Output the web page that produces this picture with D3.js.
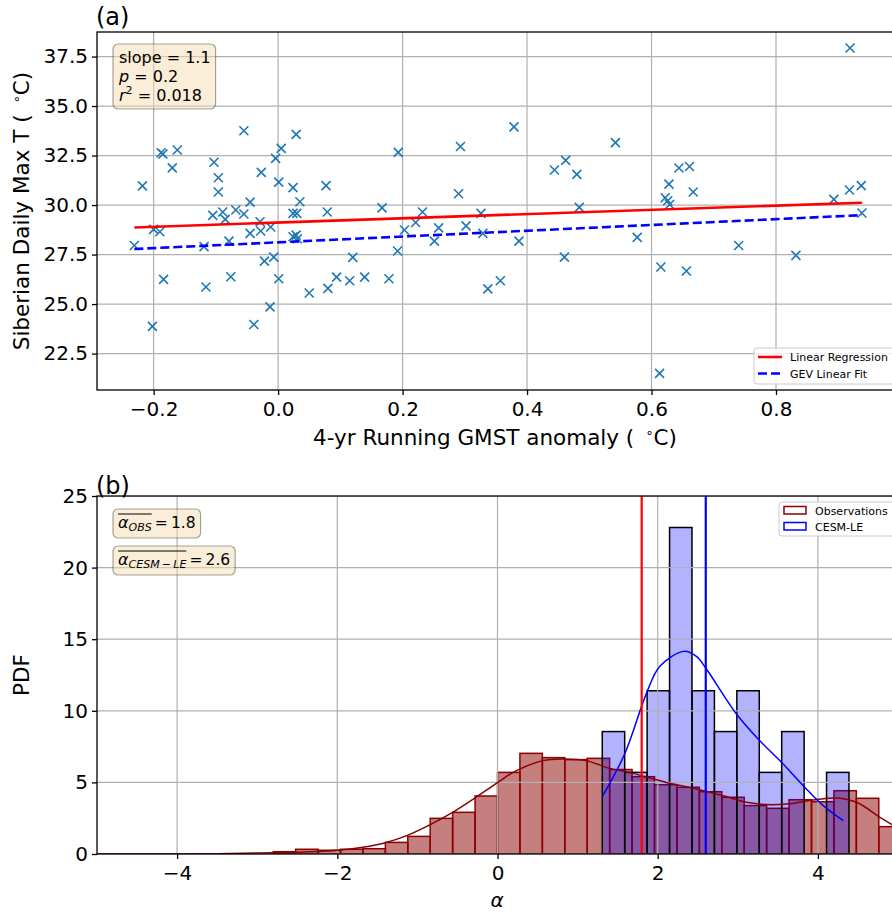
<!DOCTYPE html>
<html>
<head>
<meta charset="utf-8">
<style>
body { margin: 0; background: #fff; }
svg { display: block; font-family: "DejaVu Sans", sans-serif; }
</style>
</head>
<body>
<div id="chart"></div>
<script src="https://cdnjs.cloudflare.com/ajax/libs/d3/7.8.5/d3.min.js"></script>
<script>
// panel (a): GMST anomaly vs Siberian max T
const gmst = [-0.231,-0.218,-0.202,-0.200,-0.190,-0.188,-0.185,-0.184,-0.170,-0.162,
  -0.119,-0.116,-0.105,-0.103,-0.096,-0.096,-0.089,-0.085,-0.079,-0.076,
  -0.068,-0.055,-0.055,-0.045,-0.045,-0.039,-0.029,-0.028,-0.027,-0.022,
  -0.013,-0.012,-0.007,-0.004,0.001,0.001,0.005,0.024,0.024,0.030,
  0.024,0.029,0.031,0.029,0.035,0.050,0.077,0.079,0.080,0.094,
  0.115,0.120,0.139,0.167,0.178,0.192,0.193,0.203,0.221,0.232,
  0.251,0.258,0.290,0.293,0.302,0.326,0.329,0.337,0.357,0.379,
  0.387,0.444,0.460,0.462,0.480,0.484,0.542,0.577,0.613,0.615,
  0.622,0.626,0.629,0.628,0.644,0.656,0.661,0.667,0.740,0.832,
  0.893,0.918,0.919,0.937,0.938];
const tmax = [27.96,30.97,23.87,28.77,28.65,32.64,32.58,26.25,31.88,32.78,
  27.90,25.86,29.48,32.16,31.38,30.66,29.65,29.28,28.18,26.38,
  29.75,33.75,29.55,30.15,28.57,23.97,29.16,28.69,31.65,27.17,
  24.86,28.89,27.37,32.36,31.16,26.28,32.86,30.88,29.58,29.58,
  28.40,28.48,28.30,33.57,30.17,25.56,30.98,29.65,25.79,26.36,
  26.18,27.36,26.36,29.86,26.28,27.68,32.66,28.74,29.12,29.65,
  28.18,28.85,30.57,32.96,28.95,29.58,28.57,25.77,26.18,33.95,
  28.18,31.77,27.37,32.26,31.55,29.88,33.15,28.37,21.50,26.87,
  30.37,30.22,30.03,31.06,31.87,26.67,31.95,30.66,27.96,27.46,
  30.29,30.76,37.93,30.98,29.60];
const fitX = [-0.231, 0.938];
const regY = [28.87, 30.12];
const gevY = [27.78, 29.49];
const xTicksA = [-0.2, 0, 0.2, 0.4, 0.6, 0.8];
const yTicksA = [22.5, 25, 27.5, 30, 32.5, 35, 37.5];

// panel (b): alpha histograms
const obsBins = [-2.8,-2.52,-2.24,-1.96,-1.68,-1.4,-1.12,-0.84,-0.56,-0.28,
  0,0.28,0.56,0.84,1.12,1.4,1.68,1.96,2.24,2.52,2.8,3.08,3.36,3.64,3.92,4.2,4.48,4.76];
const obsPdf = [0.16,0.33,0.26,0.33,0.37,0.81,1.23,2.49,2.91,4.05,
  5.70,7.03,6.73,6.59,6.68,5.90,5.40,4.84,4.66,4.35,3.96,3.38,3.19,3.79,3.65,4.42,3.89,1.91];
const cesmBins = [1.308,1.588,1.868,2.148,2.428,2.708,2.988,3.268,3.548,3.828,4.108];
const cesmPdf = [8.55,5.70,11.4,22.8,11.4,8.55,11.4,5.70,8.55,0,5.70];
const binW = 0.28;
const obsKdeX = [-5,-4,-3.5,-3,-2.5,-1.96,-1.68,-1.4,-1.125,-0.846,-0.566,-0.2875,0,0.2125,0.567,0.817,1.108,1.4,1.69,2.108,2.483,2.817,3.108,3.358,3.608,3.942,4.233,4.483,4.775,5.0];
const obsKdeY = [0,0.005,0.02,0.07,0.12,0.28,0.47,0.79,1.30,2.03,2.89,3.89,4.98,5.75,6.52,6.63,6.52,5.98,5.63,5.0,4.54,4.07,3.61,3.45,3.49,3.77,3.91,3.61,2.56,1.8];
const cesmKdeX = [1.308,1.5875,1.858,2.025,2.325,2.483,2.608,2.983,3.275,3.546,3.817,4.067,4.317];
const cesmKdeY = [4.0,6.98,11.2,13.1,14.15,13.8,12.92,9.78,7.91,6.40,4.77,3.38,2.33];
const obsMean = 1.8, cesmMean = 2.6;
const xTicksB = [-4, -2, 0, 2, 4];
const yTicksB = [0, 5, 10, 15, 20, 25];

const width = 892, height = 913;
const svg = d3.select("#chart").append("svg")
    .attr("width", width).attr("height", height);

const boxA = {left: 97, right: 893, top: 32, bottom: 390};
const boxB = {left: 97, right: 898, top: 496, bottom: 854};

const xA = d3.scaleLinear().domain([-0.291, 0.988]).range([boxA.left, boxA.right]);
const yA = d3.scaleLinear().domain([20.66, 38.74]).range([boxA.bottom, boxA.top]);
const xB = d3.scaleLinear().domain([-5, 5]).range([boxB.left, boxB.right]);
const yB = d3.scaleLinear().domain([0, 25]).range([boxB.bottom, boxB.top]);

const grid = "#b0b0b0";
const tickFont = 20;

function drawGrid(g, box, x, y, xt, yt) {
  g.selectAll(".gx").data(xt).join("line")
      .attr("x1", d => x(d)).attr("x2", d => x(d))
      .attr("y1", box.top).attr("y2", box.bottom)
      .attr("stroke", grid).attr("stroke-width", 1.2);
  g.selectAll(".gy").data(yt).join("line")
      .attr("x1", box.left).attr("x2", box.right)
      .attr("y1", d => y(d)).attr("y2", d => y(d))
      .attr("stroke", grid).attr("stroke-width", 1.2);
}

function drawAxes(box, x, y, xt, yt, fmtX, fmtY) {
  svg.append("g")
      .attr("transform", `translate(0,${box.bottom})`)
      .call(d3.axisBottom(x).tickValues(xt).tickFormat(fmtX).tickSize(5).tickPadding(7))
      .call(g => g.select(".domain").remove())
      .call(g => g.selectAll("text").attr("font-size", tickFont).attr("font-family", "DejaVu Sans").attr("fill", "#000"))
      .call(g => g.selectAll("line").attr("stroke", "#000").attr("stroke-width", 1.3));
  svg.append("g")
      .attr("transform", `translate(${box.left},0)`)
      .call(d3.axisLeft(y).tickValues(yt).tickFormat(fmtY).tickSize(5).tickPadding(4))
      .call(g => g.select(".domain").remove())
      .call(g => g.selectAll("text").attr("font-size", tickFont).attr("font-family", "DejaVu Sans").attr("fill", "#000"))
      .call(g => g.selectAll("line").attr("stroke", "#000").attr("stroke-width", 1.3));
  svg.append("rect")
      .attr("x", box.left).attr("y", box.top)
      .attr("width", box.right - box.left).attr("height", box.bottom - box.top)
      .attr("fill", "none").attr("stroke", "#000").attr("stroke-width", 1.3);
}

function infoBox(g, pad) {
  const b = g.node().getBBox();
  g.insert("rect", ":first-child")
      .attr("x", b.x - pad).attr("y", b.y - pad + 1)
      .attr("width", b.width + 2 * pad).attr("height", b.height + 2 * pad - 2)
      .attr("rx", 5)
      .attr("fill", "#f5deb3").attr("fill-opacity", 0.5)
      .attr("stroke", "#000").attr("stroke-opacity", 0.35).attr("stroke-width", 1.2);
}

function degreeLabel(t, lead) {
  t.append("tspan").text(lead + " (\u2009 ");
  t.append("tspan").attr("font-size", 13).attr("dy", -8).text("∘");
  t.append("tspan").attr("dy", 8).text("C)");
}

// ---------- panel (a) ----------
const gA = svg.append("g");
drawGrid(gA, boxA, xA, yA, xTicksA, yTicksA);

gA.selectAll(".pt").data(gmst.map((d, i) => [d, tmax[i]])).join("path")
    .attr("transform", d => `translate(${xA(d[0])},${yA(d[1])})`)
    .attr("d", "M-4.5,-4.5L4.5,4.5M-4.5,4.5L4.5,-4.5")
    .attr("stroke", "#1f77b4").attr("stroke-width", 1.6).attr("fill", "none");

const lineA = d3.line().x(d => xA(d[0])).y(d => yA(d[1]));
gA.append("path").datum(fitX.map((d, i) => [d, regY[i]]))
    .attr("d", lineA).attr("stroke", "red").attr("stroke-width", 2.6).attr("fill", "none");
gA.append("path").datum(fitX.map((d, i) => [d, gevY[i]]))
    .attr("d", lineA).attr("stroke", "blue").attr("stroke-width", 2.6).attr("fill", "none")
    .attr("stroke-dasharray", "9,4");

drawAxes(boxA, xA, yA, xTicksA, yTicksA, d3.format(".1f"), d3.format(".1f"));

// stats box
const sA = svg.append("g").attr("font-size", 16);
sA.append("text").attr("x", 119).attr("y", 63).text("slope = 1.1");
const tp = sA.append("text").attr("x", 119).attr("y", 82);
tp.append("tspan").attr("font-style", "italic").text("p");
tp.append("tspan").text(" = 0.2");
const tr = sA.append("text").attr("x", 119).attr("y", 101);
tr.append("tspan").attr("font-style", "italic").text("r");
tr.append("tspan").attr("font-size", 11).attr("dy", -7).text("2");
tr.append("tspan").attr("dy", 7).text(" = 0.018");
infoBox(sA, 5);

// legend (a)
const lgA = svg.append("g");
lgA.append("rect").attr("x", 754).attr("y", 348).attr("width", 150).attr("height", 36).attr("rx", 3)
    .attr("fill", "#fff").attr("fill-opacity", 0.8).attr("stroke", "#cccccc");
lgA.append("line").attr("x1", 758).attr("x2", 782).attr("y1", 357).attr("y2", 357)
    .attr("stroke", "red").attr("stroke-width", 2.6);
lgA.append("line").attr("x1", 758).attr("x2", 782).attr("y1", 373.5).attr("y2", 373.5)
    .attr("stroke", "blue").attr("stroke-width", 2.6).attr("stroke-dasharray", "9,4");
lgA.append("text").attr("x", 790).attr("y", 361).attr("font-size", 11).text("Linear Regression");
lgA.append("text").attr("x", 790).attr("y", 377.5).attr("font-size", 11).text("GEV Linear Fit");

// labels (a)
svg.append("text").attr("x", 96).attr("y", 25).attr("font-size", 24).text("(a)");
degreeLabel(svg.append("text").attr("transform", "translate(29,211) rotate(-90)")
    .attr("text-anchor", "middle").attr("font-size", 21.5), "Siberian Daily Max T");
degreeLabel(svg.append("text").attr("x", 495).attr("y", 445)
    .attr("text-anchor", "middle").attr("font-size", 21.5), "4-yr Running GMST anomaly");

// ---------- panel (b) ----------
svg.append("clipPath").attr("id", "clipB").append("rect")
    .attr("x", boxB.left).attr("y", boxB.top)
    .attr("width", boxB.right - boxB.left).attr("height", boxB.bottom - boxB.top);
const gB = svg.append("g").attr("clip-path", "url(#clipB)");

gB.selectAll(".ob").data(obsBins.map((d, i) => [d, obsPdf[i]])).join("rect")
    .attr("x", d => xB(d[0])).attr("y", d => yB(d[1]))
    .attr("width", d => xB(d[0] + binW) - xB(d[0])).attr("height", d => yB(0) - yB(d[1]))
    .attr("fill", "#8b0000").attr("fill-opacity", 0.5)
    .attr("stroke", "#8b0000").attr("stroke-width", 1.5);

gB.selectAll(".cb").data(cesmBins.map((d, i) => [d, cesmPdf[i]]).filter(d => d[1] > 0)).join("rect")
    .attr("x", d => xB(d[0])).attr("y", d => yB(d[1]))
    .attr("width", d => xB(d[0] + binW) - xB(d[0])).attr("height", d => yB(0) - yB(d[1]))
    .attr("fill", "blue").attr("fill-opacity", 0.3)
    .attr("stroke", "#000").attr("stroke-width", 1.5);

drawGrid(gB, boxB, xB, yB, xTicksB, yTicksB);

const lineB = d3.line().x(d => xB(d[0])).y(d => yB(d[1])).curve(d3.curveCatmullRom.alpha(0.5));
gB.append("path").datum(obsKdeX.map((d, i) => [d, obsKdeY[i]]))
    .attr("d", lineB).attr("stroke", "#8b0000").attr("stroke-width", 1.5).attr("fill", "none");
gB.append("path").datum(cesmKdeX.map((d, i) => [d, cesmKdeY[i]]))
    .attr("d", lineB).attr("stroke", "blue").attr("stroke-width", 1.5).attr("fill", "none");

gB.append("line").attr("x1", xB(obsMean)).attr("x2", xB(obsMean))
    .attr("y1", boxB.top).attr("y2", boxB.bottom).attr("stroke", "red").attr("stroke-width", 2.2);
gB.append("line").attr("x1", xB(cesmMean)).attr("x2", xB(cesmMean))
    .attr("y1", boxB.top).attr("y2", boxB.bottom).attr("stroke", "blue").attr("stroke-width", 2.2);

drawAxes(boxB, xB, yB, xTicksB, yTicksB, d3.format("d"), d3.format("d"));

// mean boxes
function meanBox(y, sub, val) {
  const g = svg.append("g").attr("font-size", 15.5);
  const t = g.append("text").attr("x", 118).attr("y", y);
  const a = t.append("tspan").attr("font-style", "italic").attr("font-size", 16).text("α");
  const s = t.append("tspan").attr("font-style", "italic").attr("font-size", 11).attr("dy", 3).text(sub);
  t.append("tspan").attr("dy", -3).text("\u2009=\u2009" + val);
  const w = a.node().getComputedTextLength() + s.node().getComputedTextLength();
  g.append("line").attr("x1", 118).attr("x2", 118 + w)
      .attr("y1", y - 14).attr("y2", y - 14).attr("stroke", "#000").attr("stroke-width", 1.2);
  infoBox(g, 5);
}
meanBox(528, "OBS", "1.8");
meanBox(565, "CESM\u2009−\u2009LE", "2.6");

// legend (b)
const lgB = svg.append("g");
lgB.append("rect").attr("x", 779).attr("y", 502).attr("width", 120).attr("height", 34).attr("rx", 3)
    .attr("fill", "#fff").attr("fill-opacity", 0.8).attr("stroke", "#cccccc");
lgB.append("rect").attr("x", 784).attr("y", 506.5).attr("width", 22).attr("height", 7.5)
    .attr("fill", "none").attr("stroke", "#8b0000").attr("stroke-width", 1.5);
lgB.append("rect").attr("x", 784).attr("y", 522.5).attr("width", 22).attr("height", 7.5)
    .attr("fill", "none").attr("stroke", "blue").attr("stroke-width", 1.5);
lgB.append("text").attr("x", 815).attr("y", 514.5).attr("font-size", 11).text("Observations");
lgB.append("text").attr("x", 815).attr("y", 530.5).attr("font-size", 11).text("CESM-LE");

// labels (b)
svg.append("text").attr("x", 96).attr("y", 494).attr("font-size", 24).text("(b)");
svg.append("text").attr("transform", "translate(29,675) rotate(-90)")
    .attr("text-anchor", "middle").attr("font-size", 21.5).text("PDF");
svg.append("text").attr("x", 497).attr("y", 907).attr("text-anchor", "middle")
    .attr("font-size", 20).attr("font-style", "italic").text("α");
</script>
</body>
</html>
